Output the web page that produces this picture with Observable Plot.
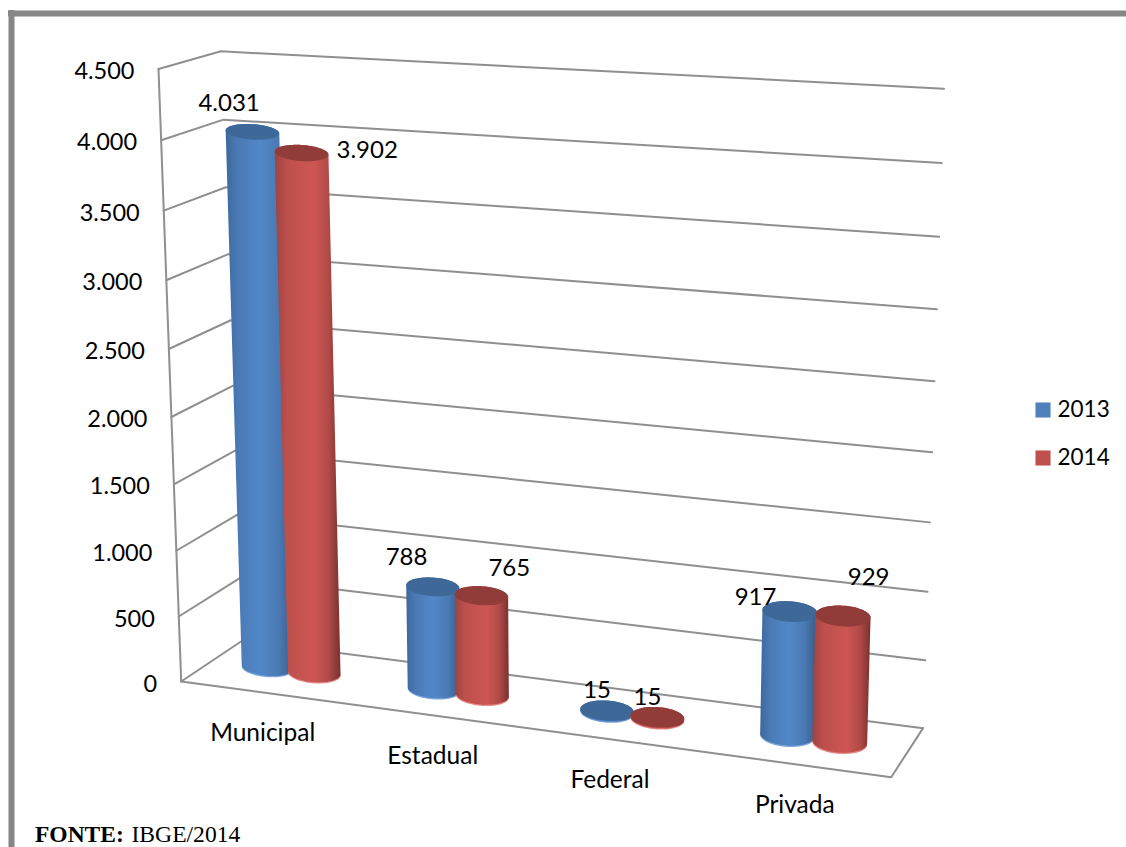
<!DOCTYPE html>
<html>
<head>
<meta charset="utf-8">
<script src="https://cdn.jsdelivr.net/npm/d3@7"></script>
<script src="https://cdn.jsdelivr.net/npm/@observablehq/plot@0.6"></script>
<style>
html,body{margin:0;padding:0;background:#fff;overflow:hidden}
svg{display:block}
</style>
</head>
<body>
<div id="chart"></div>
<script>
const categories = ["Municipal", "Estadual", "Federal", "Privada"];
const years = ["2013", "2014"];
const values2013 = [4031, 788, 15, 917];
const values2014 = [3902, 765, 15, 929];
const yTicks = [0, 500, 1000, 1500, 2000, 2500, 3000, 3500, 4000, 4500];
const source = ["FONTE:", "IBGE/2014"];

// --- 3D projection of the chart box: (category axis u, depth d, value v), all 0..1
const O = [180.7, 681], B = [890.7, 776.7], C = [242, 640], E = [158, 68.5];
const wB = 0.92, wC = 1.047, wE = 0.95;
function project(u, d, v) {
  const w = 1 + u * (wB - 1) + d * (wC - 1) + v * (wE - 1);
  const f = i => (O[i] + u * (wB * B[i] - O[i]) + d * (wC * C[i] - O[i]) + v * (wE * E[i] - O[i])) / w;
  // small residual correction of the upper back edge of the box
  return [f(0) + v * d * (-3 + 7 * u), f(1) + v * d * (-3.5 - 4 * u)];
}
const vScale = d3.scaleLinear().domain([0, 4500]).range([0, 1]);
const fmt = d3.formatLocale({decimal: ",", thousands: ".", grouping: [3], currency: ["", ""]}).format(",");

// gridlines: side wall + back wall for every tick, floor outline
const grid = yTicks.flatMap(t => {
  const v = vScale(t);
  return [[0, 0], [0, 1], [1, 1]].map(([u, d]) => {
    const [x, y] = project(u, d, v);
    return {t, x, y};
  });
});
const floor = [[0, 0], [1, 0], [1, 1]].map(([u, d]) => {
  const [x, y] = project(u, d, 0);
  return {x, y};
});
const axisLine = [0, 4500].map(t => {
  const [x, y] = project(0, 0, vScale(t));
  return {x, y};
});
const tickLabels = yTicks.map(t => {
  const [x, y] = project(0, 0, vScale(t));
  return {label: fmt(t), x, y};
});
const catLabels = categories.map((c, i) => {
  const [x, y] = project((i + 0.5) / 4, 0, 0);
  return {label: c, x, y};
});

// cylinders: an upright ellipse sized from the projected circle
const rU = 0.0355, rD = 0.21, offset = 0.0355, rim = 10, tilt = 0.06;
const flatten = v => 1 + 0.78 * Math.pow(v, 1.5);
const angles = d3.range(0, 72).map(n => n / 72 * 2 * Math.PI);
const circle = (uc, v) => {
  const projected = angles.map(a => project(uc + rU * Math.cos(a), 0.5 + rD * Math.sin(a), v));
  const [x0, x1] = d3.extent(projected, p => p[0]);
  const [y0, y1] = d3.extent(projected, p => p[1]);
  const [px] = project(uc, 0.5, v);
  const cx = (x0 + x1) / 2 + 1.6 * v, cy = (y0 + y1) / 2 + 3 * v;
  const rx = (x1 - x0) / 2 * (1 - 0.02 * v), ry = (y1 - y0) / 2 * flatten(v);
  return angles.map(a => [cx + rx * Math.cos(a), cy + ry * Math.sin(a) + tilt * rx * Math.cos(a)]);
};
function outline(id, pts) {
  const closed = pts.concat([pts[0]]);
  return closed.map(([x, y]) => ({id, x, y}));
}
const centerU = (i, s) => (i + 0.5) / 4 - 0.0035 + 0.0008 * i + (s === 0 ? -offset : offset);
function seriesParts(vals, s) {
  const rims = [], bodies = [], tops = [];
  vals.forEach((val, i) => {
    const uc = centerU(i, s);
    const top = circle(uc, vScale(val));
    const base = circle(uc, vScale(Math.min(rim, val / 2)));
    rims.push(...outline(i, circle(uc, 0)));
    bodies.push(...outline(i, d3.polygonHull(top.concat(base))));
    tops.push(...outline(i, top));
  });
  return {rims, bodies, tops};
}

// data label offsets from the centre of each cylinder's top
const labelNudge = {
  "0-0": [-22, -25.5], "0-1": [-26, -29], "0-2": [-10, -20], "0-3": [-34, -14],
  "1-0": [67, -0.5],   "1-1": [28, -27],  "1-2": [-10, -20], "1-3": [26, -38]
};
const valueLabels = [values2013, values2014].flatMap((vals, s) => vals.map((val, i) => {
  const [x, y] = project(centerU(i, s), 0.5, vScale(val));
  const [dx, dy] = labelNudge[s + "-" + i];
  return {label: fmt(val), x: x + dx, y: y + dy};
}));

const palette = {
  "2013": {stops: [[0, "#3d689c"], [0.18, "#4a7ab5"], [0.5, "#5288c8"], [0.78, "#4a79b3"], [1, "#385a85"]], top: "#3e6897", rim: "#7fa8dc", flat: "#4f81bd"},
  "2014": {stops: [[0, "#9c4340"], [0.18, "#bd4f4c"], [0.6, "#cd5653"], [0.82, "#b04a47"], [1, "#7a302e"]], top: "#913c39", rim: "#e58a86", flat: "#c0504d"}
};

function defs() {
  const g = d3.create("svg:defs");
  years.forEach(yr => {
    const lg = g.append("linearGradient").attr("id", "body" + yr).attr("x1", 0).attr("x2", 1).attr("y1", 0).attr("y2", 0);
    palette[yr].stops.forEach(([o, c]) => lg.append("stop").attr("offset", o).attr("stop-color", c));
  });
  return g.node();
}

const ink = "#000";
const font = "Lato";
const gridColor = "#8f8f8f";

const cylinderMarks = [values2013, values2014].flatMap((vals, s) => {
  const yr = years[s];
  const {rims, bodies, tops} = seriesParts(vals, s);
  const p = {x: "x", y: "y", z: "id", stroke: "none"};
  return [
    Plot.line(rims, {...p, fill: palette[yr].rim}),
    Plot.line(bodies, {...p, fill: `url(#body${yr})`}),
    Plot.line(tops, {...p, fill: palette[yr].top})
  ];
});

const legend = years.map((yr, i) => ({yr, y: 409.5 + i * 48}));

const chart = Plot.plot({
  width: 1126,
  height: 847,
  margin: 0,
  style: {background: "#fff"},
  x: {domain: [0, 1126], range: [0, 1126], axis: null},
  y: {domain: [0, 847], range: [0, 847], axis: null},
  marks: [
    defs,
    // page frame
    Plot.ruleY([13], {x1: 8, x2: 1126, stroke: "#868686", strokeWidth: 6}),
    Plot.ruleX([11], {y1: 10, y2: 847, stroke: "#868686", strokeWidth: 6}),
    // box
    Plot.line(grid, {x: "x", y: "y", z: "t", stroke: gridColor, strokeWidth: 2, strokeLinejoin: "miter"}),
    Plot.line(floor, {x: "x", y: "y", stroke: gridColor, strokeWidth: 2}),
    Plot.line(axisLine, {x: "x", y: "y", stroke: gridColor, strokeWidth: 2}),
    // cylinders
    ...cylinderMarks,
    // text
    Plot.text(tickLabels, {x: "x", y: "y", text: "label", dx: -24, dy: 2.5, textAnchor: "end", fontFamily: font, fontSize: 23.5, fill: ink}),
    Plot.text(catLabels, {x: "x", y: "y", text: "label", dx: -1, dy: 41, textAnchor: "middle", fontFamily: font, fontSize: 24.5, fill: ink}),
    Plot.text(valueLabels, {x: "x", y: "y", text: "label", textAnchor: "middle", fontFamily: font, fontSize: 24, fill: ink}),
    // legend
    Plot.dot(legend, {x: () => 1042.5, y: "y", symbol: "square", r: 8.5, fill: d => palette[d.yr].flat, stroke: "none"}),
    Plot.text(legend, {x: () => 1057, y: "y", text: "yr", textAnchor: "start", fontFamily: font, fontSize: 22.5, fill: ink}),
    // source
    Plot.text([source[0]], {x: () => 34.5, y: () => 834, text: d => d, textAnchor: "start", fontFamily: "Liberation Serif", fontWeight: "bold", fontSize: 23.5, fill: ink}),
    Plot.text([source[1]], {x: () => 131, y: () => 834, text: d => d, textAnchor: "start", fontFamily: "Liberation Serif", fontSize: 23.6, fill: ink})
  ]
});
document.getElementById("chart").appendChild(chart);
</script>
</body>
</html>
